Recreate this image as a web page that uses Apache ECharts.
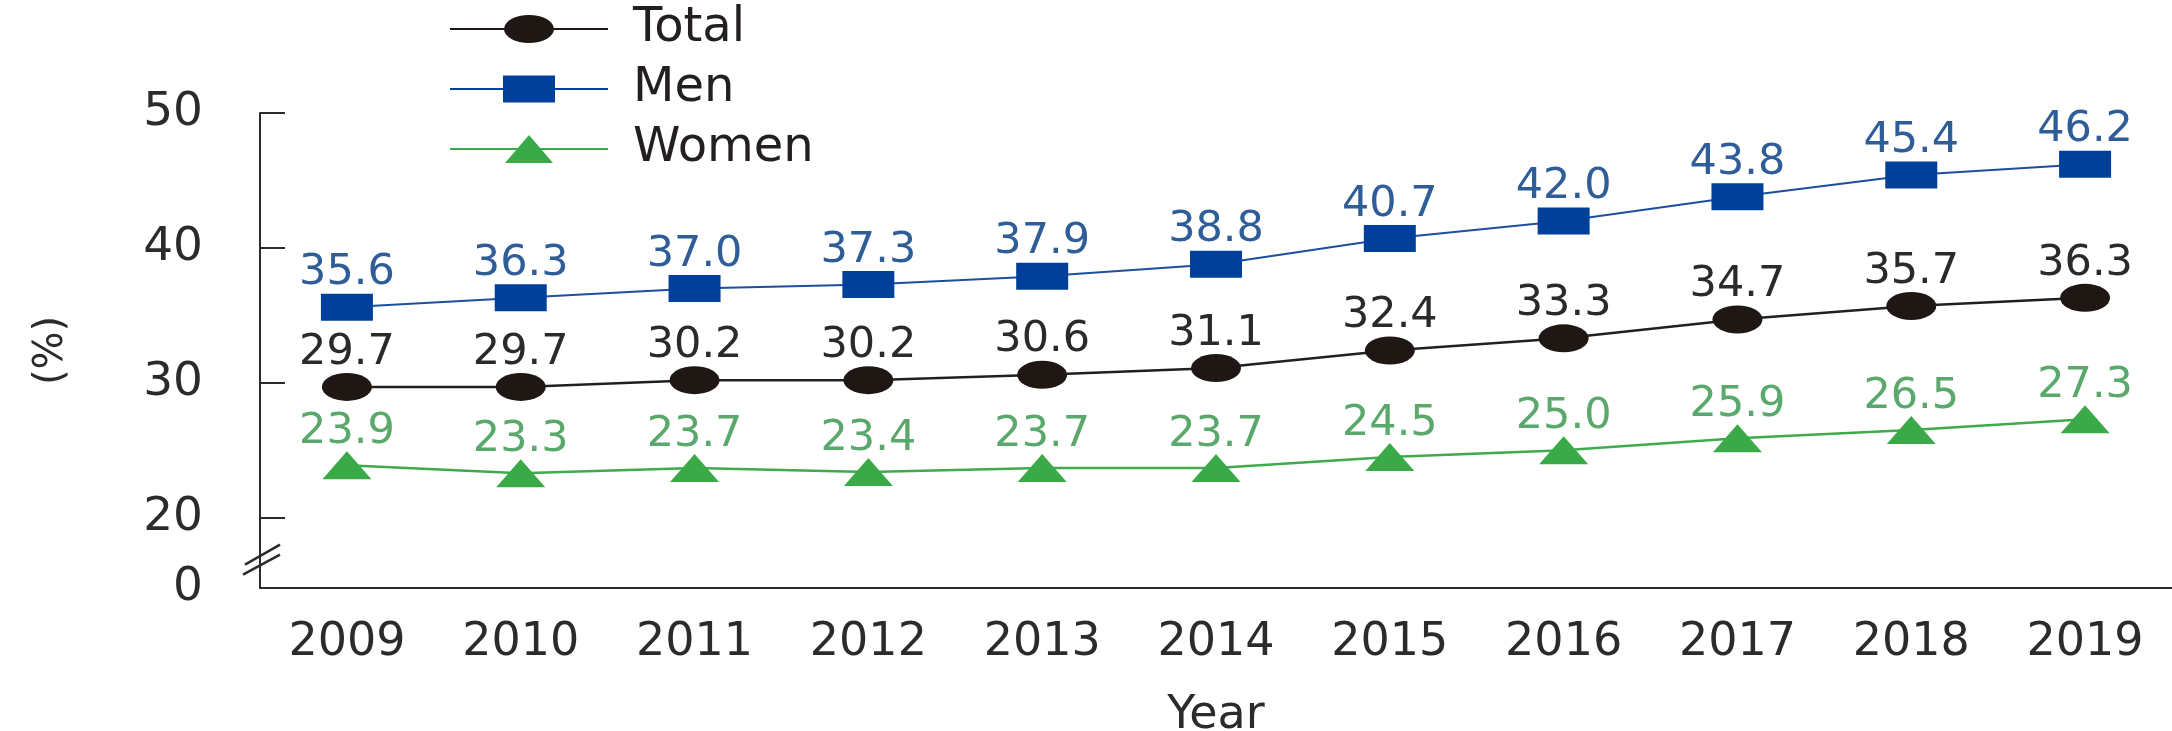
<!DOCTYPE html>
<html>
<head>
<meta charset="utf-8">
<script src="https://cdn.jsdelivr.net/npm/echarts@6/dist/echarts.min.js"></script>
<style>
html,body{margin:0;padding:0;background:#fff;}
#c{width:2172px;height:731px;}
</style>
</head>
<body>
<div id="c"></div>
<script>
// ---- data ----
const years = ['2009','2010','2011','2012','2013','2014','2015','2016','2017','2018','2019'];
const totalValues = [29.7, 29.7, 30.2, 30.2, 30.6, 31.1, 32.4, 33.3, 34.7, 35.7, 36.3];
const menValues   = [35.6, 36.3, 37.0, 37.3, 37.9, 38.8, 40.7, 42.0, 43.8, 45.4, 46.2];
const womenValues = [23.9, 23.3, 23.7, 23.4, 23.7, 23.7, 24.5, 25.0, 25.9, 26.5, 27.3];
const yTickValues = [20, 30, 40, 50];
const yAxisMin = 14.8;   // value at the (broken) bottom of the axis, labelled "0"
const yAxisMax = 50;
const breakValue = 16.9; // where the "//" break mark sits

// ---- style ----
const FONT = 'DejaVu Sans';
const AXIS = '#2b2b2b';
const GRID_LEFT = 260;

const ICON_TOTAL = 'path://M0,13.5H158V15.5H0Z M54,14.5A25,14 0 1,1 104,14.5A25,14 0 1,1 54,14.5Z';
const ICON_MEN   = 'path://M0,13H158V15H0Z M53,0.5H105V27.5H53Z';
const ICON_WOMEN = 'path://M0,13.5H158V15.5H0Z M79,0.5L103,28.5L55,28.5Z';

const chart = echarts.init(document.getElementById('c'), null, {renderer: 'canvas'});

function lbl(color, dist) {
  return {
    show: true, position: 'top', distance: dist,
    fontFamily: FONT, fontSize: 43, color: color,
    formatter: p => Number(p.value).toFixed(1)
  };
}

const option = {
  animation: false,
  backgroundColor: '#ffffff',
  textStyle: {fontFamily: FONT},
  legend: {
    orient: 'vertical',
    left: 445, top: 0,
    itemWidth: 158, itemHeight: 28, itemGap: 12,
    selectedMode: false,
    textStyle: {fontFamily: FONT, fontSize: 48, color: '#231f20', padding: [0, 0, 0, 20]},
    data: [
      {name: 'Total', icon: ICON_TOTAL},
      {name: 'Men', icon: ICON_MEN},
      {name: 'Women', icon: ICON_WOMEN}
    ]
  },
  grid: {left: GRID_LEFT, right: 0, top: 113, bottom: 143, outerBoundsMode: 'none'},
  xAxis: {
    type: 'category',
    data: years,
    boundaryGap: true,
    axisLine: {lineStyle: {color: AXIS, width: 2}},
    axisTick: {inside: true, length: 14, alignWithLabel: true, lineStyle: {color: AXIS, width: 2}},
    axisLabel: {fontFamily: FONT, fontSize: 46, color: AXIS, margin: 32},
    splitLine: {show: false},
    name: 'Year',
    nameLocation: 'middle',
    nameGap: 105,
    nameTextStyle: {fontFamily: FONT, fontSize: 46, color: AXIS}
  },
  yAxis: {
    type: 'value',
    min: yAxisMin, max: yAxisMax,
    axisLine: {show: true, lineStyle: {color: AXIS, width: 2}},
    axisTick: {show: true, inside: true, length: 25, customValues: yTickValues, lineStyle: {color: AXIS, width: 2}},
    axisLabel: {
      customValues: [yAxisMin].concat(yTickValues),
      formatter: v => (v < 19 ? '0' : String(Math.round(v))),
      margin: 57, fontFamily: FONT, fontSize: 47, color: AXIS
    },
    splitLine: {show: false},
    name: '(%)',
    nameLocation: 'middle',
    nameRotate: 90,
    nameGap: 188,
    nameTextStyle: {fontFamily: FONT, fontSize: 40, color: AXIS}
  },
  series: [
    {
      name: 'Total', type: 'line', data: totalValues,
      symbol: 'circle', symbolSize: [50, 28],
      itemStyle: {color: '#1f1714', borderWidth: 0},
      lineStyle: {color: '#231f20', width: 2.5},
      label: lbl('#2a2a2a', -1), z: 3
    },
    {
      name: 'Men', type: 'line', data: menValues,
      symbol: 'rect', symbolSize: [52, 27],
      itemStyle: {color: '#00409a', borderWidth: 0},
      lineStyle: {color: '#1d4f9c', width: 2},
      label: lbl('#2f5d98', -1), z: 3
    },
    {
      name: 'Women', type: 'line', data: womenValues,
      symbol: 'triangle', symbolSize: [49, 28],
      itemStyle: {color: '#3aaa48', borderWidth: 0},
      lineStyle: {color: '#3eab4c', width: 2.5},
      label: lbl('#5aa86b', -2), z: 3
    }
  ]
};

chart.setOption(option);

// axis-break "//" decoration
const by = chart.convertToPixel({yAxisIndex: 0}, breakValue);
chart.setOption({
  graphic: [{
    type: 'group',
    children: [
      {type: 'line', shape: {x1: GRID_LEFT - 15, y1: by + 5, x2: GRID_LEFT + 20, y2: by - 15}, style: {stroke: AXIS, lineWidth: 2.5}},
      {type: 'line', shape: {x1: GRID_LEFT - 17, y1: by + 15, x2: GRID_LEFT + 20, y2: by - 5}, style: {stroke: AXIS, lineWidth: 2.5}}
    ]
  }]
});
</script>
</body>
</html>
